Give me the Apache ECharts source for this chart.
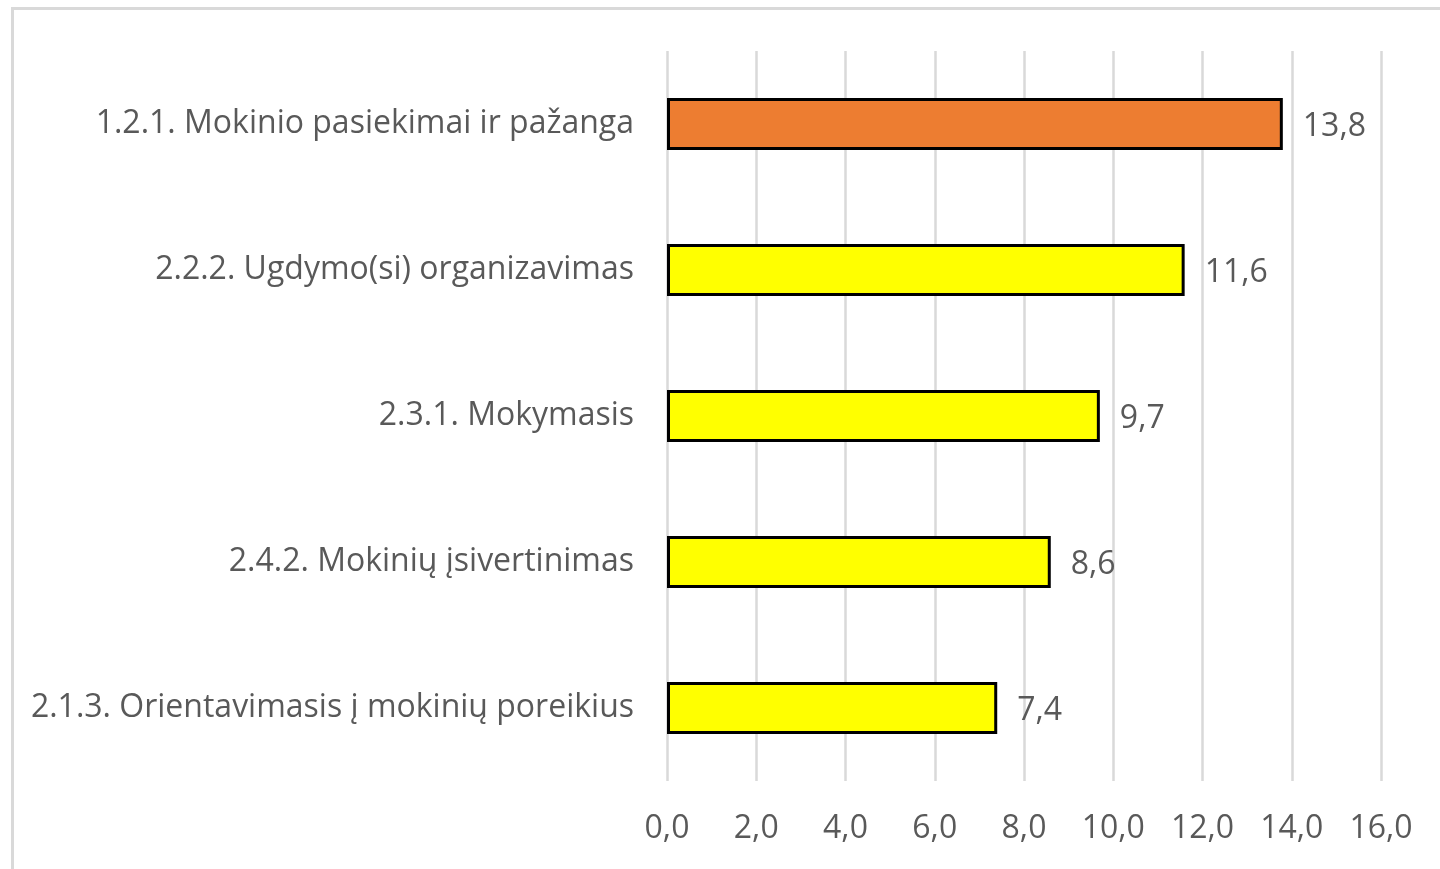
<!DOCTYPE html>
<html>
<head>
<meta charset="utf-8">
<title>Rodikliai</title>
<script src="https://cdn.jsdelivr.net/npm/echarts@6/dist/echarts.min.js"></script>
<style>
  html, body { margin: 0; padding: 0; background: #fff; overflow: hidden; }
  #chart { width: 1440px; height: 869px; }
  .frame {
    position: absolute; left: 11px; top: 7px; width: 1460px; height: 900px;
    border: 3px solid #d9d9d9; box-sizing: border-box; pointer-events: none;
  }
</style>
</head>
<body>
<div id="chart"></div>
<div class="frame"></div>
<script>
const categories = [
  '1.2.1. Mokinio pasiekimai ir pažanga',
  '2.2.2. Ugdymo(si) organizavimas',
  '2.3.1. Mokymasis',
  '2.4.2. Mokinių įsivertinimas',
  '2.1.3. Orientavimasis į mokinių poreikius'
]
const values = [13.8, 11.6, 9.7, 8.6, 7.4]
const barColors = ['#ED7D31', '#FFFF00', '#FFFF00', '#FFFF00', '#FFFF00']

const textColor = '#595959'
const fontFamily = 'Open Sans'
const fmt = v => v.toFixed(1).replace('.', ',')

const chart = echarts.init(document.getElementById('chart'))

chart.setOption({
  backgroundColor: '#fff',
  animation: false,
  grid: {
    left: 667,
    right: 59,
    top: 51,
    bottom: 88
  },
  xAxis: {
    type: 'value',
    min: 0,
    max: 16,
    interval: 2,
    axisLine: { show: false },
    axisTick: { show: false },
    axisLabel: {
      color: textColor,
      fontFamily: fontFamily,
      fontSize: 32,
      margin: 32,
      formatter: fmt
    },
    splitLine: {
      lineStyle: { color: '#d9d9d9', width: 2.5 }
    }
  },
  yAxis: {
    type: 'category',
    inverse: true,
    data: categories,
    axisLine: { show: false },
    axisTick: { show: false },
    axisLabel: {
      color: textColor,
      fontFamily: fontFamily,
      fontSize: 32,
      margin: 33,
      padding: [3, 0, 0, 0]
    }
  },
  series: [
    {
      type: 'bar',
      barWidth: 52,
      data: values.map((v, i) => ({
        value: v,
        itemStyle: { color: barColors[i] }
      })),
      itemStyle: {
        borderColor: '#000',
        borderWidth: 3
      },
      label: {
        show: true,
        position: 'right',
        distance: 20,
        offset: [0, 3],
        color: textColor,
        fontFamily: fontFamily,
        fontSize: 32,
        formatter: p => fmt(p.value)
      }
    }
  ]
})
</script>
</body>
</html>
